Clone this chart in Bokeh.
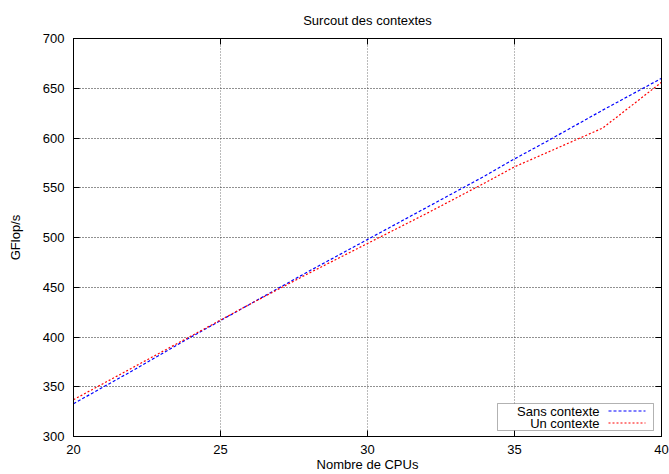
from bokeh.plotting import figure
from bokeh.models import LinearAxis, Range1d, Label, BoxAnnotation, Arrow, FixedTicker
from bokeh.embed import file_html
from bokeh.resources import INLINE

# Data
cpus = [20, 22, 24, 26, 28, 30, 32, 34, 35, 36, 38, 40]
sans_contexte = [333, 366, 400, 433, 466, 498, 530, 562, 579, 595, 628, 660]
un_contexte = [337, 369, 401, 433, 464, 494, 524, 555, 571, 584, 610, 656]
x_ticks = [20, 25, 30, 35, 40]
y_ticks = [300, 350, 400, 450, 500, 550, 600, 650, 700]

FONT = "Liberation Sans"
FS = "13px"

p = figure(width=669, height=474, output_backend="svg", toolbar_location=None,
           x_range=Range1d(20, 40), y_range=Range1d(300, 700),
           min_border_left=73, min_border_right=8, min_border_top=38, min_border_bottom=38,
           x_axis_label="Nombre de CPUs", y_axis_label="GFlop/s",
           title="Surcout des contextes")
p.title.align = "center"
p.title.text_font = FONT
p.title.text_font_size = FS
p.title.text_font_style = "normal"
p.title.text_color = "black"
p.title.standoff = 21

p.background_fill_color = "white"
p.border_fill_color = "white"
p.outline_line_color = "black"
p.outline_line_width = 1

for ax in (p.xaxis[0], p.yaxis[0]):
    ax.axis_label_text_font = FONT
    ax.axis_label_text_font_size = FS
    ax.axis_label_text_font_style = "normal"
    ax.axis_label_text_color = "black"
    ax.major_label_text_font = FONT
    ax.major_label_text_font_size = FS
    ax.major_label_text_color = "black"
    ax.axis_line_color = "black"
    ax.major_tick_line_color = "black"
    ax.major_tick_in = 6
    ax.major_tick_out = 0
    ax.minor_tick_line_color = None
p.xaxis[0].ticker = FixedTicker(ticks=x_ticks)
p.yaxis[0].ticker = FixedTicker(ticks=y_ticks)
p.xaxis[0].major_label_standoff = 8
p.xaxis[0].axis_label_standoff = 0
p.yaxis[0].major_label_standoff = 9
p.yaxis[0].axis_label_standoff = 17

# mirrored ticks (no labels)
top = LinearAxis(ticker=FixedTicker(ticks=x_ticks), major_label_text_font_size="1px",
                 major_label_text_color=None,
                 major_tick_in=6, major_tick_out=0, minor_tick_line_color=None,
                 major_label_standoff=0, axis_line_color="black")
right = LinearAxis(ticker=FixedTicker(ticks=y_ticks), major_label_text_font_size="1px",
                   major_label_text_color=None,
                   major_tick_in=6, major_tick_out=0, minor_tick_line_color=None,
                   major_label_standoff=0, axis_line_color="black")
p.add_layout(top, "above")
p.add_layout(right, "right")

p.xgrid.ticker = FixedTicker(ticks=x_ticks)
p.ygrid.ticker = FixedTicker(ticks=y_ticks)
p.xgrid.grid_line_color = "#777777"
p.ygrid.grid_line_color = "#222222"
p.xgrid.grid_line_dash = "1 2"
p.ygrid.grid_line_dash = "1 2"
p.xgrid.grid_line_width = 1
p.ygrid.grid_line_width = 1

p.line(cpus, sans_contexte, line_color="#0000ff", line_dash="3 2", line_width=1.2)
p.line(cpus, un_contexte, line_color="#ff0000", line_dash="2 2", line_width=1.2)

# gnuplot-style legend (label on the left, sample on the right)
p.add_layout(BoxAnnotation(left=424, right=580, bottom=6, top=33,
                           left_units="screen", right_units="screen",
                           bottom_units="screen", top_units="screen",
                           fill_color="white", fill_alpha=1, line_color="black",
                           line_width=1, level="overlay"))
for label, yy, col, dash in (("Sans contexte", 25, "#0000ff", "3 2"),
                             ("Un contexte", 13, "#ff0000", "2 2")):
    p.add_layout(Label(x=526, y=yy, x_units="screen", y_units="screen", text=label,
                       text_align="right", text_baseline="middle", text_font=FONT,
                       text_font_size=FS, text_color="black", level="overlay"))
    p.add_layout(Arrow(x_start=535, y_start=yy + 0.5, x_end=572, y_end=yy + 0.5,
                       start_units="screen", end_units="screen", end=None, start=None,
                       line_color=col, line_dash=dash, line_width=1.2, level="overlay"))

open("out.html", "w").write(file_html(p, INLINE))
